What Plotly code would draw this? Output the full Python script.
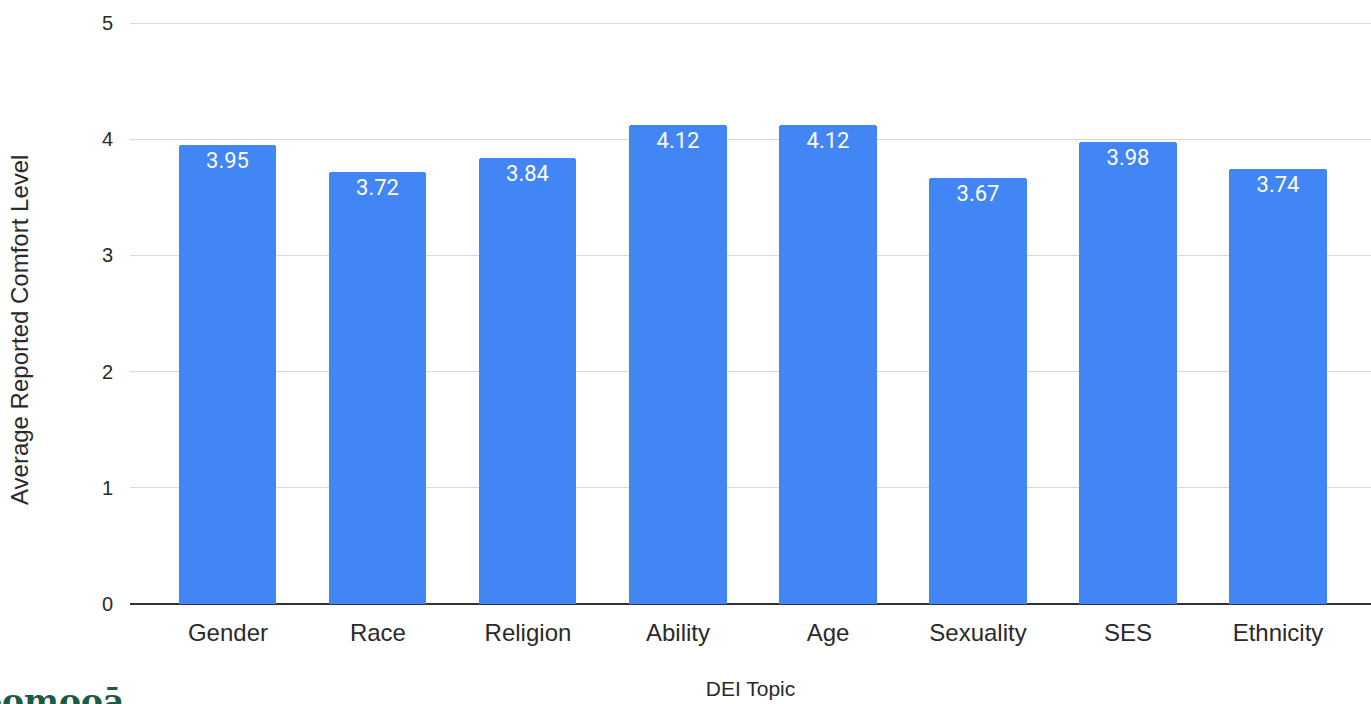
import plotly.graph_objects as go

topics = ["Gender", "Race", "Religion", "Ability", "Age", "Sexuality", "SES", "Ethnicity"]
comfort = [3.95, 3.72, 3.84, 4.12, 4.12, 3.67, 3.98, 3.74]
y_ticks = [0, 1, 2, 3, 4, 5]

W, H = 1371, 704
left, right, top, bottom = 130, 0, 21, 100
plot_w = W - left - right
plot_h = H - top - bottom


def px_x(px):
    return (px - left) / plot_w


def px_y(py):
    return (H - bottom - py) / plot_h


fig = go.Figure(
    go.Bar(
        x=list(range(len(topics))),
        y=comfort,
        width=0.647,
        marker=dict(color="#4285F4", line=dict(width=0), cornerradius=3),
        text=[f"{v:.2f}" for v in comfort],
        textposition="inside",
        insidetextanchor="end",
        textangle=0,
        textfont=dict(family="Roboto, Arial, sans-serif", size=22, color="#ffffff"),
        cliponaxis=False,
        hoverinfo="skip",
    )
)

fig.update_layout(
    width=W,
    height=H,
    margin=dict(l=left, r=right, t=top, b=bottom, pad=0),
    paper_bgcolor="#ffffff",
    plot_bgcolor="#ffffff",
    showlegend=False,
    bargap=0,
    font=dict(family="Liberation Sans, Arial, sans-serif", color="#333333"),
    xaxis=dict(
        range=[-0.653, 7.62],
        tickmode="array",
        tickvals=list(range(len(topics))),
        ticktext=topics,
        tickfont=dict(size=24, color="#2a2a2a"),
        showgrid=False,
        showline=False,
        zeroline=False,
        ticks="",
        ticklabelstandoff=12,
        title=dict(text="DEI Topic", font=dict(size=21, color="#2a2a2a"), standoff=36),
        fixedrange=True,
    ),
    yaxis=dict(
        range=[0, 5.0172],
        tickmode="array",
        tickvals=y_ticks,
        tickfont=dict(size=20, color="#2a2a2a"),
        showgrid=True,
        gridcolor="#d9d9d9",
        gridwidth=1,
        zeroline=True,
        zerolinecolor="#333333",
        zerolinewidth=1.5,
        showline=False,
        ticks="",
        ticklabelstandoff=16,
        fixedrange=True,
    ),
)

# y-axis title, placed a little below the plot's vertical centre
fig.add_annotation(
    text="Average Reported Comfort Level",
    xref="paper", yref="paper",
    x=px_x(19), y=px_y(330),
    xanchor="center", yanchor="middle",
    textangle=-90,
    showarrow=False,
    font=dict(family="Liberation Sans, Arial, sans-serif", size=24, color="#2a2a2a"),
)

# brand mark in the lower-left corner, running off the page edge
fig.add_annotation(
    text="<b>oomooā</b>",
    xref="paper", yref="paper",
    x=px_x(-22),
    y=px_y(723),
    xanchor="left", yanchor="bottom",
    showarrow=False,
    font=dict(family="DejaVu Serif, serif", size=33, color="#1d5a45"),
)

fig.write_html("out.html")
